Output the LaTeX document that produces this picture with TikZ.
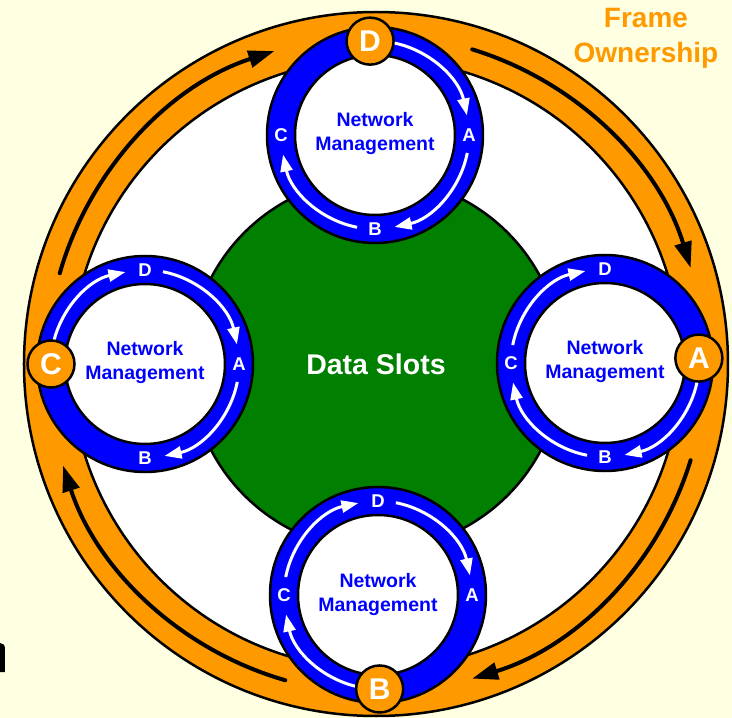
\documentclass[tikz,border=0pt]{standalone}
\usepackage{fontspec}
\setmainfont{Liberation Sans}
\usetikzlibrary{arrows.meta,calc}
\definecolor{bg}{HTML}{FFFFE1}
\definecolor{org}{HTML}{FF9900}
\definecolor{grn}{HTML}{007F00}
\definecolor{blu}{HTML}{0000FF}
\tikzset{
  outl/.style={draw=black, line width=2.5pt},
  bigring/.style={circle, outl, fill=org, minimum size=704pt, inner sep=0pt},
  field/.style={circle, outl, fill=white, minimum size=610pt, inner sep=0pt},
  datadisk/.style={circle, outl, fill=grn, minimum size=372pt, inner sep=0pt, text=white, font=\fontsize{28.5}{34}\selectfont\bfseries},
  bluering/.style={circle, outl, fill=blu, minimum size=216pt, inner sep=0pt},
  whitedisk/.style={circle, outl, fill=white, minimum size=160pt, inner sep=0pt},
  orangedot/.style={circle, outl, fill=org, minimum size=47pt, inner sep=0pt, text=white, font=\fontsize{30}{30}\selectfont\bfseries},
  ringletter/.style={inner sep=0pt, text=white, font=\fontsize{18.5}{18.5}\selectfont\bfseries},
  nmtext/.style={inner sep=0pt, text=blu, font=\fontsize{19.5}{24}\selectfont\bfseries},
  titletext/.style={inner sep=0pt, text=org, font=\fontsize{28}{34}\selectfont\bfseries},
  whitearrow/.style={draw=white, line width=3pt, -{Triangle[length=17pt,width=12pt]}},
  blackarrow/.style={draw=black, line width=4pt, line cap=round, -{Triangle[length=26pt,width=17pt]}}
}
\newcommand{\nmunit}[6]{%
  \coordinate (#1) at (#2);
  \node[bluering] (#1r) at (#1) {};
  \node[whitedisk] (#1w) at (#1) {};
  \node[nmtext, anchor=base] (#1ta) at ($(#1)+(0,8)$) {Network};
  \node[nmtext, anchor=base] (#1tb) at ($(#1)+(0,-16)$) {Management};
  \foreach \L in {#5} {
    \draw[whitearrow] ($(#1)+(\L-11:94)$) arc[start angle=\L-11, end angle=\L-78, radius=94pt];
  }
  \foreach \ang/\lt [count=\i] in {#6} {
    \node[ringletter] (#1l\i) at ($(#1)+(\ang:94)$) {\lt};
  }
  \node[orangedot] (#1o) at ($(#1)+(#4:94)$) {#3};
}
\begin{document}
\begin{tikzpicture}[x=1pt,y=1pt]
\useasboundingbox[fill=bg] (-376,-354) rectangle (356,364);
\coordinate (c) at (0,0);
\node[bigring] (ring) at (c) {};
\node[field] (fld) at (c) {};
\draw[blackarrow] ($(c)+(164:329)$) arc[start angle=164, end angle=108, radius=329pt];
\draw[blackarrow] ($(c)+(73:329)$) arc[start angle=73, end angle=17, radius=329pt];
\draw[blackarrow] ($(c)+(-17:329)$) arc[start angle=-17, end angle=-73, radius=329pt];
\draw[blackarrow] ($(c)+(-106:329)$) arc[start angle=-106, end angle=-162, radius=329pt];
\node[datadisk] (data) at (c) {Data Slots};
\nmunit{top}{-1,229}{D}{93}{90,0,-90}{0/A,-90/B,180/C}
\nmunit{rgt}{229,1}{A}{3}{0,-90,180}{90/D,-90/B,180/C}
\nmunit{bot}{2,-231}{B}{-89}{-90,180,90}{90/D,0/A,180/C}
\nmunit{lft}{-231,0}{C}{180}{180,90,0}{90/D,0/A,-90/B}
\node[titletext, anchor=base] (fo1) at (270,336) {Frame};
\node[titletext, anchor=base] (fo2) at (270,301) {Ownership};
% fragment of a cut-off glyph at the left edge
\fill[black] (-376,-308) -- (-371,-308) -- (-371,-285) .. controls (-371,-281) and (-373,-279) .. (-376,-279) -- cycle;
\end{tikzpicture}
\end{document}
